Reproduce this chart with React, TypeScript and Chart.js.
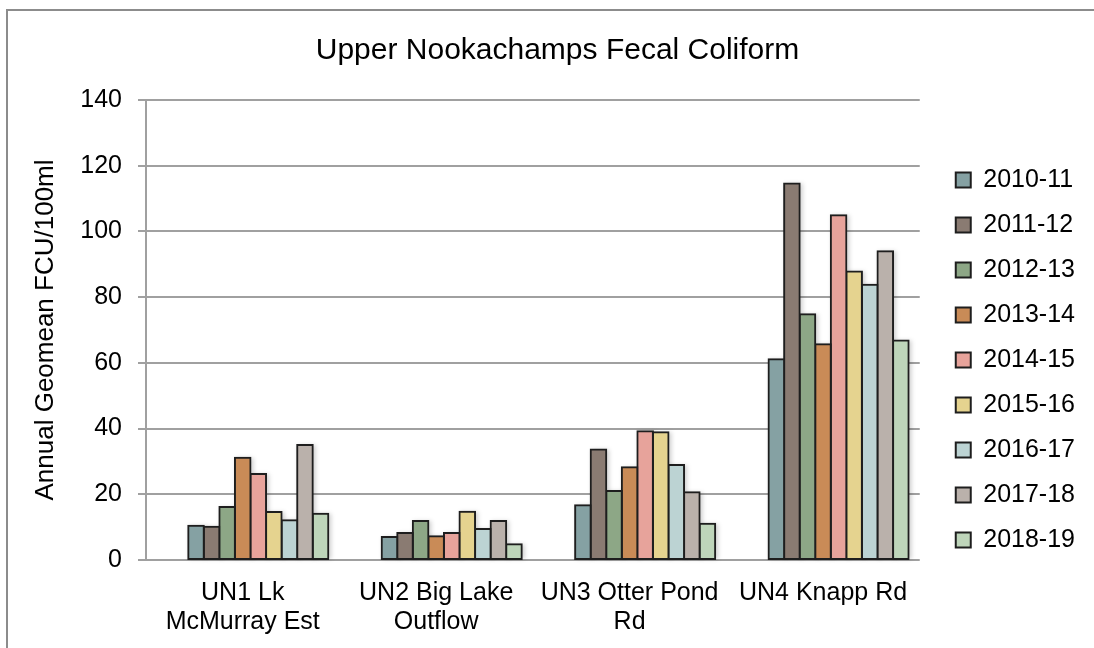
import React, { useEffect, useRef } from 'react';
import { Chart, registerables } from 'chart.js';

Chart.register(...registerables);

const chartTitle = 'Upper Nookachamps Fecal Coliform';
const yAxisTitle = 'Annual Geomean FCU/100ml';
const categories: (string | string[])[] = [
  ['UN1 Lk', 'McMurray Est'],
  ['UN2 Big Lake', 'Outflow'],
  ['UN3 Otter Pond', 'Rd'],
  'UN4 Knapp Rd',
];
const seasons = ['2010-11', '2011-12', '2012-13', '2013-14', '2014-15', '2015-16', '2016-17', '2017-18', '2018-19'];

const s2010_11 = [10.4, 7.0, 16.7, 61.1];
const s2011_12 = [10.1, 8.2, 33.6, 114.6];
const s2012_13 = [16.1, 11.9, 21.0, 74.8];
const s2013_14 = [31.1, 7.2, 28.2, 65.7];
const s2014_15 = [26.2, 8.2, 39.2, 104.9];
const s2015_16 = [14.6, 14.7, 38.9, 87.8];
const s2016_17 = [12.1, 9.4, 28.9, 83.8];
const s2017_18 = [35.0, 11.9, 20.6, 94.0];
const s2018_19 = [14.1, 4.8, 11.0, 66.8];
const seriesValues = [s2010_11, s2011_12, s2012_13, s2013_14, s2014_15, s2015_16, s2016_17, s2017_18, s2018_19];

// two empty leading slots: in the source the bar clusters sit right of the category centres
const emptySlots = 2;
const emptyValues = [null, null, null, null];

const seriesColors = ['#85a1a3', '#8a7b72', '#8da786', '#c98b57', '#e7a39b', '#e5d38f', '#bcd3d3', '#bab1ab', '#bed5ba'];

const yMin = 0;
const yMax = 140;
const yStep = 20;

const FONT = "'Liberation Sans', Arial, Helvetica, sans-serif";

const framePlugin = {
  id: 'frame',
  beforeDraw(chart: any) {
    const { ctx, width, height } = chart;
    ctx.save();
    ctx.fillStyle = '#ffffff';
    ctx.fillRect(0, 0, width, height);
    ctx.strokeStyle = '#8c8c8c';
    ctx.lineWidth = 2;
    ctx.beginPath();
    ctx.moveTo(7, height + 2);
    ctx.lineTo(7, 10);
    ctx.lineTo(width + 2, 10);
    ctx.stroke();
    ctx.restore();
  },
};

// soft shadow behind each bar, taken from the bar elements' own geometry
const shadowPlugin = {
  id: 'barShadow',
  beforeDatasetsDraw(chart: any) {
    const ctx = chart.ctx;
    ctx.save();
    ctx.filter = 'blur(2px)';
    ctx.fillStyle = 'rgba(0,0,0,0.18)';
    chart.data.datasets.forEach((ds: any, di: number) => {
      if (!ds.label) return;
      const meta = chart.getDatasetMeta(di);
      meta.data.forEach((bar: any) => {
        const { x, y, base, width } = bar.getProps(['x', 'y', 'base', 'width'], true);
        if (y == null || isNaN(y)) return;
        ctx.fillRect(x - width / 2 + 1, y, width + 2, base - y);
      });
    });
    ctx.restore();
  },
};

export default function App() {
  const canvasRef = useRef<HTMLCanvasElement | null>(null);

  useEffect(() => {
    if (!canvasRef.current) return;
    Chart.defaults.font.family = FONT;
    Chart.defaults.color = '#000000';
    const spacers = Array.from({ length: emptySlots }, () => ({
      label: '',
      data: emptyValues,
      backgroundColor: 'rgba(0,0,0,0)',
      borderWidth: 0,
      categoryPercentage: 0.885,
      barPercentage: 1.0,
    }));
    const series = seasons.map((s, i) => ({
      label: s,
      data: seriesValues[i],
      backgroundColor: seriesColors[i],
      borderColor: '#1e1e1e',
      borderWidth: 2,
      borderSkipped: false,
      inflateAmount: 1,
      categoryPercentage: 0.885,
      barPercentage: 1.0,
    }));
    const chart = new Chart(canvasRef.current, {
      type: 'bar',
      data: {
        labels: categories,
        datasets: [...spacers, ...series],
      },
      options: {
        responsive: false,
        animation: false,
        layout: { padding: { left: 30, top: 0, right: 9, bottom: 14 } },
        plugins: {
          title: {
            display: true,
            text: chartTitle,
            color: '#000000',
            font: { family: FONT, size: 30, weight: 'normal' },
            padding: { top: 33, bottom: 31 },
          },
          legend: {
            display: true,
            position: 'right',
            title: { display: true, text: ' ', font: { size: 10 }, padding: 37 },
            labels: {
              boxWidth: 15,
              boxHeight: 15,
              padding: 20,
              color: '#000000',
              font: { family: FONT, size: 25 },
              filter: (item: any) => item.text !== '',
            },
          },
          tooltip: { enabled: false },
        },
        scales: {
          x: {
            grid: { display: false, drawTicks: false },
            border: { display: false },
            ticks: {
              autoSkip: false,
              maxRotation: 0,
              minRotation: 0,
              padding: 19,
              color: '#000000',
              font: { family: FONT, size: 25, lineHeight: 1.15 },
            },
            afterFit: (scale: any) => {
              scale.height = 74;
            },
          },
          y: {
            position: 'left',
            min: yMin,
            max: yMax,
            grid: { color: '#a0a0a0', lineWidth: 2, drawTicks: true, tickLength: 8, tickColor: '#a0a0a0' },
            border: { display: true, color: '#a0a0a0', width: 2 },
            ticks: {
              stepSize: yStep,
              padding: 16,
              color: '#000000',
              font: { family: FONT, size: 25 },
            },
            title: {
              display: true,
              text: yAxisTitle,
              color: '#000000',
              font: { family: FONT, size: 26 },
              padding: { top: 0, bottom: 0 },
            },
            afterFit: (scale: any) => {
              scale.width = 116;
            },
          },
          yGap: {
            position: 'right',
            display: true,
            grid: { display: false, drawTicks: false },
            border: { display: false },
            ticks: { display: false },
            afterFit: (scale: any) => {
              scale.width = 16;
            },
          },
        },
      },
      plugins: [framePlugin, shadowPlugin],
    } as any);
    return () => chart.destroy();
  }, []);

  return (
    <div style={{ position: 'fixed', left: 0, top: 0, width: 1094, height: 648 }}>
      <canvas ref={canvasRef} width={1094} height={648} style={{ width: 1094, height: 648, display: 'block' }} />
    </div>
  );
}
